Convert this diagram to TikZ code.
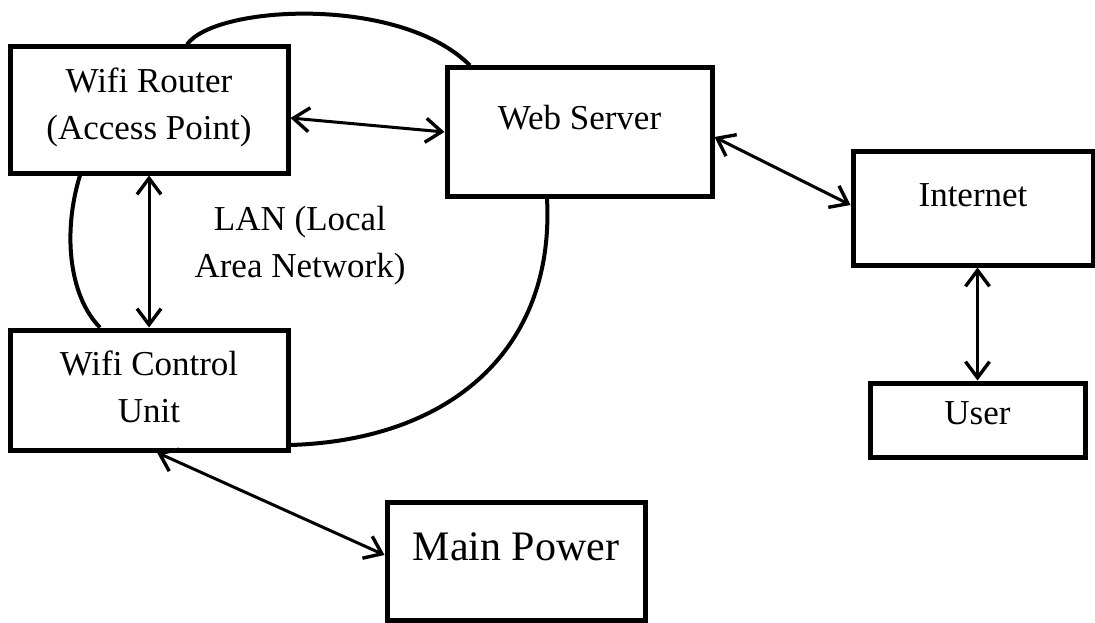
\documentclass[tikz,border=0pt]{standalone}
\usepackage{fontspec}
\setmainfont{Liberation Serif}
\usetikzlibrary{arrows.meta}

\tikzset{
  box/.style={draw, line width=5pt, inner sep=0pt},
  boxtext/.style={font=\fontsize{35}{47}\selectfont, align=center},
  bigtext/.style={font=\fontsize{42}{50}\selectfont, align=center},
  link/.style={line width=3pt,
    {Straight Barb[length=16pt,width=24pt,line width=3.4pt]}-{Straight Barb[length=16pt,width=24pt,line width=3.4pt]}},
  wire/.style={line width=4pt},
}

\begin{document}
\begin{tikzpicture}[x=1pt,y=-1pt]
\useasboundingbox (0,0) rectangle (1095,623);

% boxes
\node[box, minimum width=278pt, minimum height=126pt,
      label={[boxtext, yshift=3pt]center:Wifi Router\\(Access Point)}] (router) at (149,110) {};
\node[box, minimum width=265pt, minimum height=128pt,
      label={[boxtext, yshift=14pt]center:Web Server}] (web) at (579.5,132) {};
\node[box, minimum width=240pt, minimum height=113pt,
      label={[boxtext, yshift=13pt]center:Internet}] (internet) at (973,208.5) {};
\node[box, minimum width=215pt, minimum height=74pt,
      label={[boxtext, yshift=7pt]center:User}] (user) at (977.5,420) {};
\node[box, minimum width=278pt, minimum height=120pt,
      label={[boxtext, yshift=3pt]center:Wifi Control\\Unit}] (control) at (149,390) {};
\node[box, minimum width=258pt, minimum height=118pt,
      label={[bigtext, yshift=14pt]center:Main Power}] (main) at (516,561) {};

% network label
\node[boxtext] (lan) at (300,246) {LAN (Local\\Area Network)};

% two-way links
\draw[link] ([yshift=-8pt]router.east) -- (web.west);
\draw[link] ([yshift=-5pt]web.east) -- ([yshift=3.5pt]internet.west);
\draw[link] (router.south) -- (control.north);
\draw[link] (user.north |- internet.south) -- (user.north);
\draw[link] ([xshift=8pt]control.south) -- ([yshift=6pt]main.west);

% wireless arcs
\draw[wire] ([xshift=38pt]router.north) .. controls (215,5) and (400,-5) .. ([xshift=-109.5pt]web.north);
\draw[wire] ([xshift=-69pt]router.south) .. controls (63,230) and (68,295) .. ([xshift=-49pt]control.north);
\draw[wire] ([xshift=-32.5pt]web.south) .. controls (555,350) and (450,440) .. ([yshift=-55pt]control.east);
\end{tikzpicture}
\end{document}
